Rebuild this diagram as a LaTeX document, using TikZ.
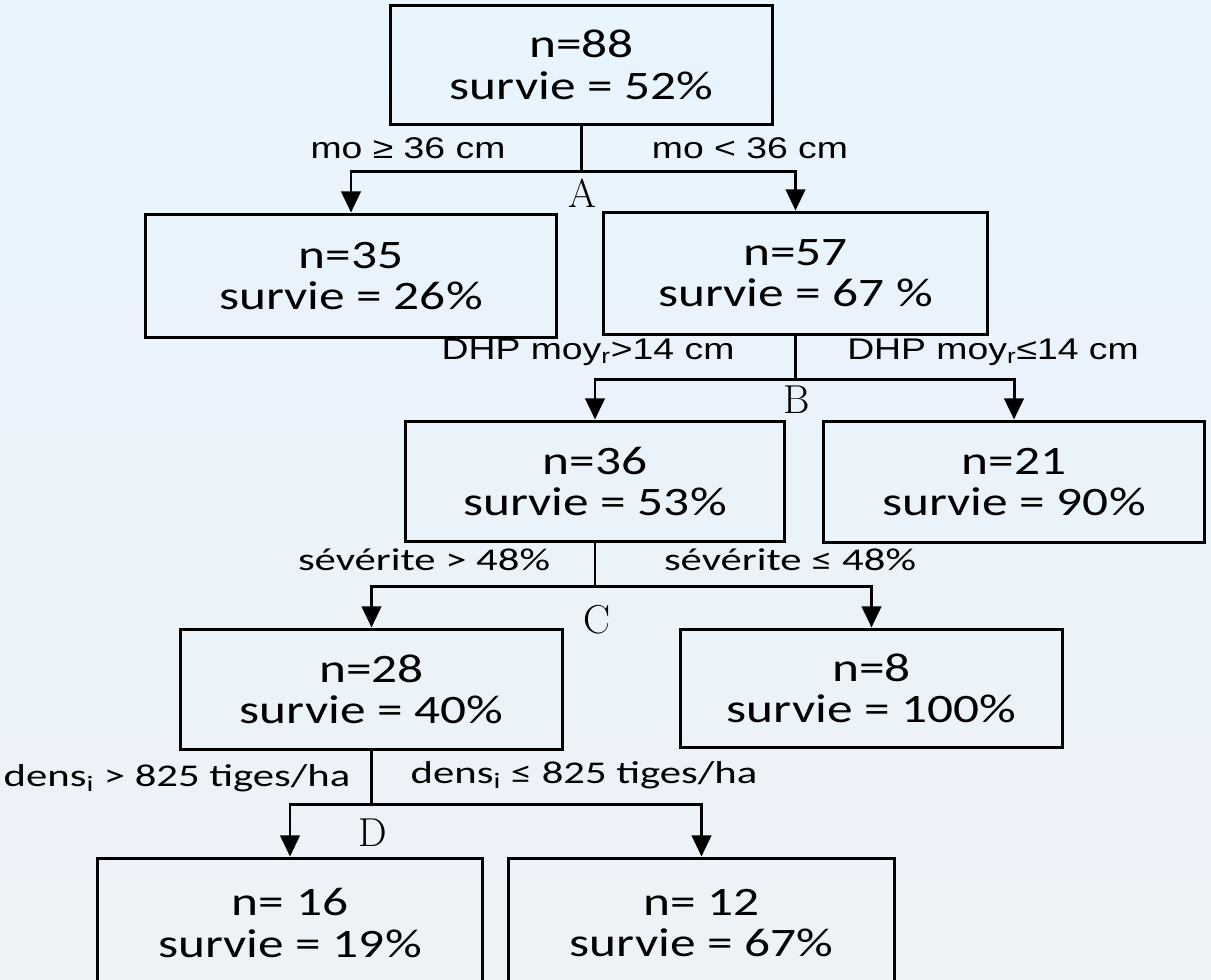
\documentclass[tikz,border=0pt]{standalone}
\usepackage{fontspec}
\usetikzlibrary{arrows.meta}
\newfontfamily\boxfont[FakeStretch=1.27]{Carlito}
\newfontfamily\condfont[FakeStretch=1.25]{Liberation Sans}
\newfontfamily\critfont[FakeStretch=1.35]{Carlito}
\definecolor{sky}{RGB}{232,244,254}
\definecolor{mist}{RGB}{237,242,246}

\tikzset{
	box/.style={draw, line width=1.7pt, align=center, inner sep=0pt, font=\boxfont\fontsize{23}{23.5}\selectfont},
	link/.style={line width=1.7pt},
	arr/.style={line width=1.7pt, -{Triangle[width=11pt,length=12pt]}},
	cond/.style={font=\condfont\fontsize{17}{20}\selectfont},
	critlab/.style={font=\critfont\fontsize{18}{20}\selectfont},
	letter/.style={font=\rmfamily\fontsize{23}{26}\selectfont}
}

\begin{document}
\begin{tikzpicture}[x=0.02cm, y=-0.02cm]
	\clip (0,0) rectangle (1211,980);
	\shade[top color=sky, middle color=sky, bottom color=mist] (0,0) rectangle (1211,980);
	\useasboundingbox (0,0) rectangle (1211,980);

	\node[font=\boxfont\fontsize{23}{23}\selectfont, anchor=base east] (paren) at (9,8) {)};

	\node[box, minimum width=7.66cm, minimum height=2.40cm] (n88) at (581.5,65) {n=88\\survie = 52\%};
	\node[box, minimum width=8.24cm, minimum height=2.48cm] (n35) at (351,276) {n=35\\survie = 26\%};
	\node[box, minimum width=7.70cm, minimum height=2.46cm] (n57) at (795.5,273.5) {n=57\\survie = 67 \%};
	\node[box, minimum width=7.60cm, minimum height=2.42cm] (n36) at (595,481.5) {n=36\\survie = 53\%};
	\node[box, minimum width=7.64cm, minimum height=2.44cm] (n21) at (1014,482) {n=21\\survie = 90\%};
	\node[box, minimum width=7.66cm, minimum height=2.42cm] (n28) at (371.5,689.5) {n=28\\survie = 40\%};
	\node[box, minimum width=7.66cm, minimum height=2.38cm] (n8) at (871.5,688.5) {n=8\\survie = 100\%};
	\node[box, minimum width=7.72cm, minimum height=2.60cm] (n16) at (290,923) {n= 16\\survie = 19\%};
	\node[box, minimum width=7.74cm, minimum height=2.60cm] (n12) at (701.5,923) {n= 12\\survie = 67\%};

	\draw[link] (n88.south) -- ++(0,45) coordinate (sA);
	\draw[arr] (sA) -| (n35.north);
	\draw[arr] (sA) -| (n57.north);
	\draw[link] (n57.south) -- ++(0,43) coordinate (sB);
	\draw[arr] (sB) -| (n36.north);
	\draw[arr] (sB) -| (n21.north);
	\draw[link] (n36.south) -- ++(0,43) coordinate (sC);
	\draw[arr] (sC) -| (n28.north);
	\draw[arr] (sC) -| (n8.north);
	\draw[link] (n28.south) -- ++(0,53) coordinate (sD);
	\draw[arr] (sD) -| (n16.north);
	\draw[arr] (sD) -| (n12.north);

	\node[cond] (moge) at (408,148) {mo ≥ 36 cm};
	\node[cond] (molt) at (750,148) {mo < 36 cm};
	\node[cond] (dhpgt) at (588,352) {DHP moy\textsubscript{r}>14 cm};
	\node[cond] (dhple) at (993,352) {DHP moy\textsubscript{r}≤14 cm};
	\node[critlab] (sevgt) at (424,560) {sévérite > 48\%};
	\node[critlab] (sevle) at (790,560) {sévérite ≤ 48\%};
	\node[critlab] (densgt) at (177,778) {dens\textsubscript{i} > 825 tiges/ha};
	\node[critlab] (densle) at (584,775) {dens\textsubscript{i} ≤ 825 tiges/ha};

	\node[letter] (lA) at (582,193) {A};
	\node[letter] (lB) at (797,400) {B};
	\node[letter] (lC) at (597,620) {C};
	\node[letter] (lD) at (373,833) {D};
\end{tikzpicture}
\end{document}
